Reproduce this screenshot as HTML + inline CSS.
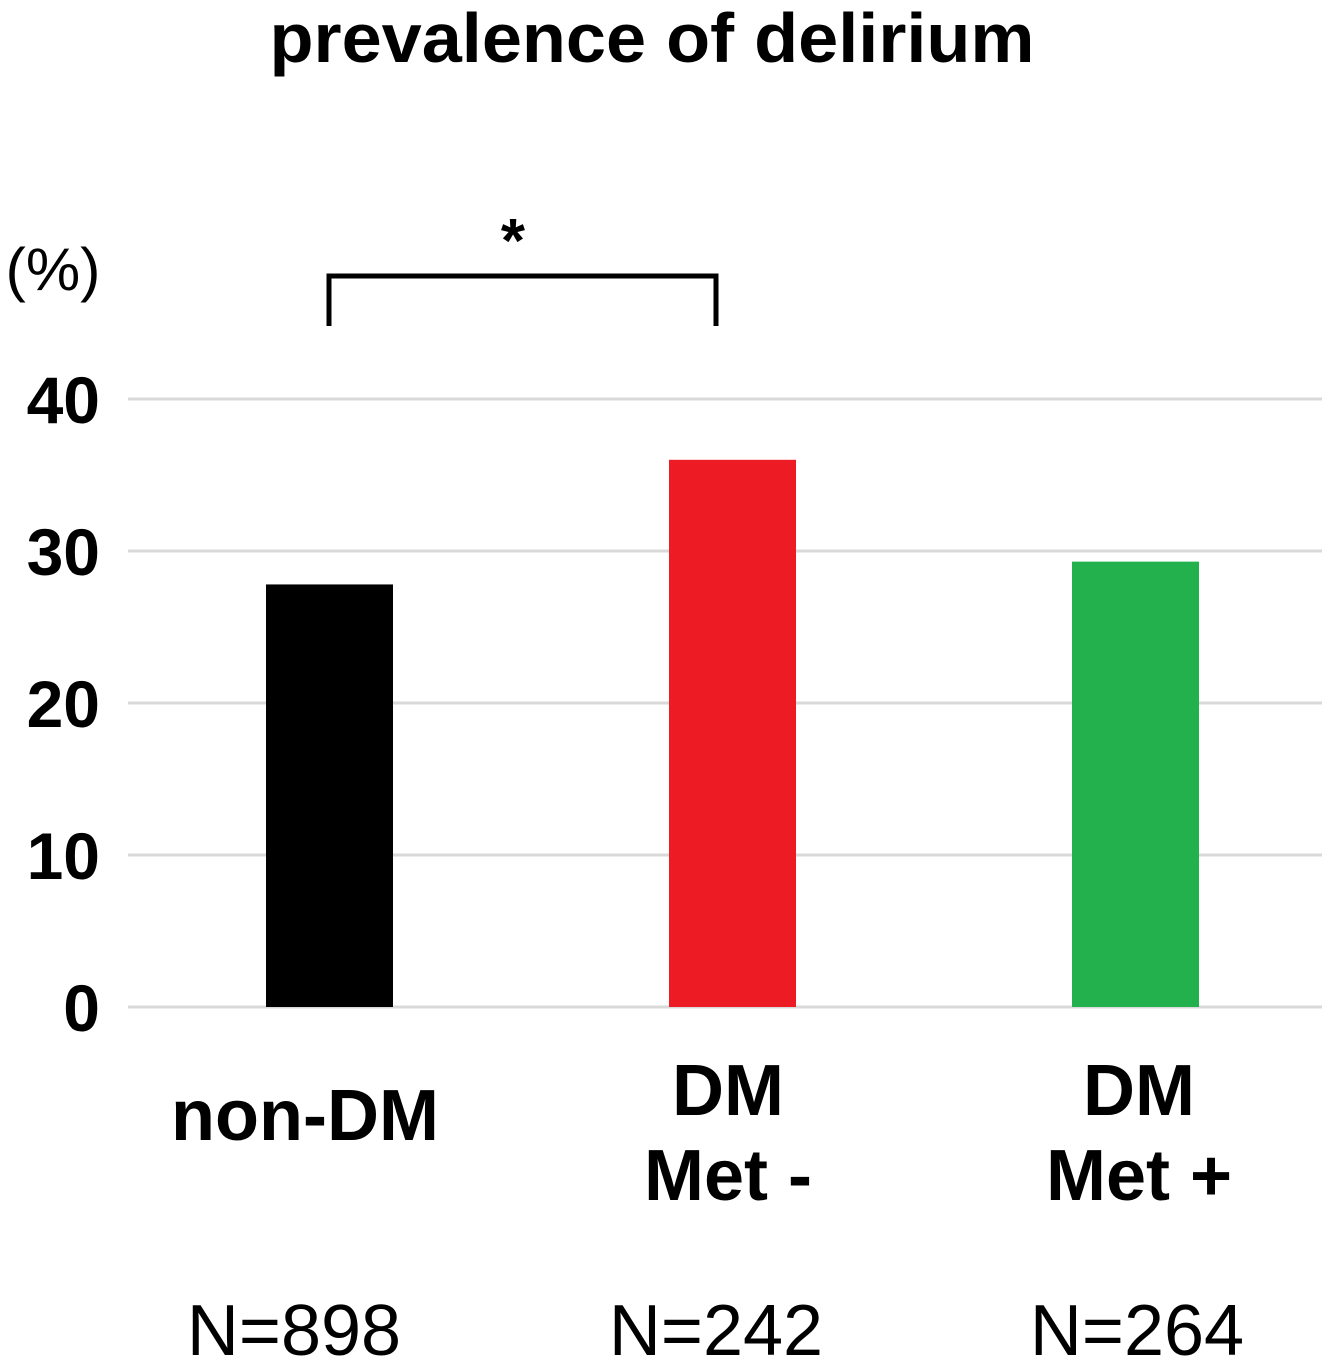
<!DOCTYPE html>
<html><head><meta charset="utf-8"><style>
html,body{margin:0;padding:0;background:#fff;}
svg{display:block;font-family:"Liberation Sans",Arial,sans-serif;}
</style></head><body>
<svg id="chart" width="1332" height="1365">
<text x="652" y="62" text-anchor="middle" font-size="70" font-weight="bold" textLength="765" lengthAdjust="spacingAndGlyphs">prevalence of delirium</text>
<text x="53" y="290" text-anchor="middle" font-size="60" textLength="95" lengthAdjust="spacingAndGlyphs">(%)</text>
<g id="grid"></g><g id="bars"></g><g id="labels"></g>
<path d="M329 326 V276 H716 V326" fill="none" stroke="#000" stroke-width="5"/>
<text x="513" y="262" text-anchor="middle" font-size="62" font-weight="bold">*</text>
</svg>
<script>
const categories=[["non-DM"],["DM","Met -"],["DM","Met +"]];
const values=[27.8,36.0,29.3];
const counts=["N=898","N=242","N=264"];
const ticks=[0,10,20,30,40];
const colors=["#000000","#ed1c24","#22b14c"];
const NS="http://www.w3.org/2000/svg";
const y=v=>1007-v*15.2;
const x=i=>128+403*i+201.5;
const g=document.getElementById('grid'),b=document.getElementById('bars'),l=document.getElementById('labels');
function mk(tag,attrs,parent){const e=document.createElementNS(NS,tag);for(const k in attrs)e.setAttribute(k,attrs[k]);parent.appendChild(e);return e;}
ticks.forEach(t=>{
 const ln=mk('line',{x1:128,x2:1322,y1:y(t),y2:y(t),stroke:'#d9d9d9','stroke-width':3},g);
 
 
 const tx=mk('text',{x:100,y:y(t)+24,'text-anchor':'end','font-size':66,'font-weight':'bold'},g);
 tx.textContent=t;
 
 
});
const labelCx=[305,728,1139];
const countCx=[294,716,1137];
values.forEach((v,i)=>{
 const r=mk('rect',{x:x(i)-63.5,y:y(v),width:127,height:y(0)-y(v),fill:colors[i]},b);
 
 
 const cat=categories[i];
 const base=cat.length===1?1140:1115;
 cat.forEach((s,j)=>{
  const t=mk('text',{x:labelCx[i],y:base+j*85,'text-anchor':'middle','font-size':72,'font-weight':'bold'},l);
  t.textContent=s;
  
  
 });
 const n=mk('text',{x:countCx[i],y:1355,'text-anchor':'middle','font-size':72},l);
 n.textContent=counts[i];
 
 
});
</script>
</body></html>
